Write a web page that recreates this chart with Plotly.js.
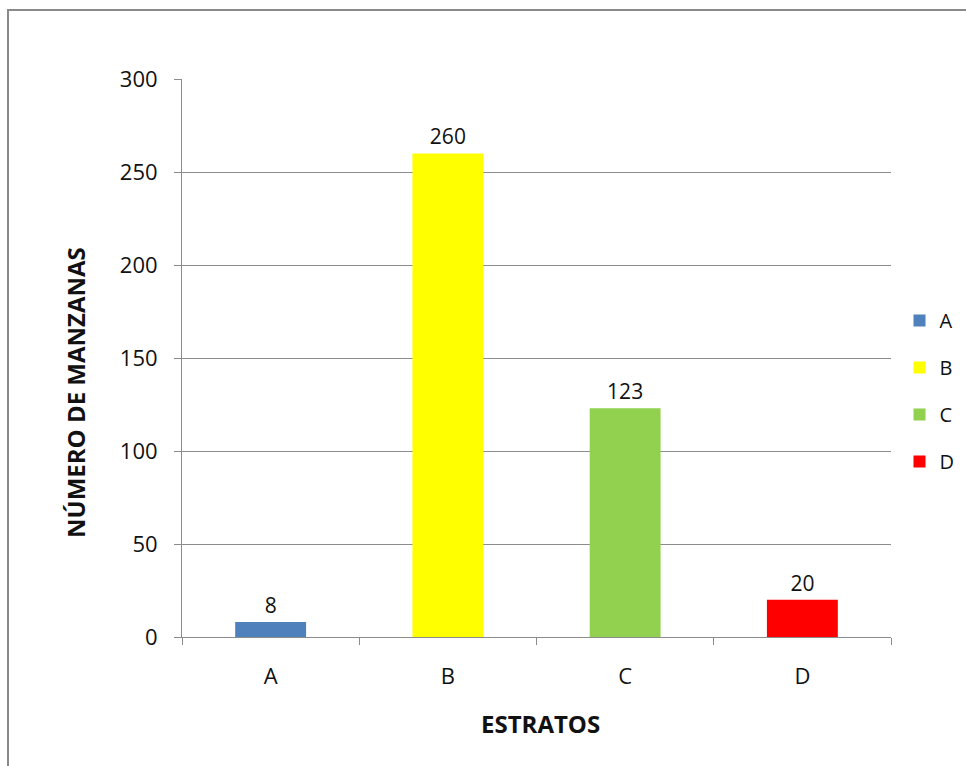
<!DOCTYPE html>
<html>
<head>
<meta charset="utf-8">
<script src="https://cdn.plot.ly/plotly-3.0.1.min.js"></script>
<style>
  html, body { margin: 0; padding: 0; background: #ffffff; }
  #chart { width: 966px; height: 766px; }
</style>
</head>
<body>
<div id="chart"></div>
<script>
// Number of blocks (manzanas) per stratum
const categories = ['A', 'B', 'C', 'D'];
const counts = [8, 260, 123, 20];
const barColors = ['#4F81BD', '#FFFF00', '#92D050', '#FF0000'];
const yTicks = [0, 50, 100, 150, 200, 250, 300];
const xTitle = 'ESTRATOS';
const yTitle = 'NÚMERO DE MANZANAS';

const FONT = 'Open Sans, Noto Sans, sans-serif';
const TEXT = '#111111';
const GRID = '#8c8c8c';

// One trace per stratum so each gets its own legend entry
const traces = categories.map((c, i) => ({
  type: 'bar',
  name: c,
  legendgroup: c,
  x: [c],
  y: [counts[i]],
  text: [String(counts[i])],
  textposition: 'outside',
  cliponaxis: false,
  textfont: { family: FONT, size: 21, color: TEXT },
  marker: { color: barColors[i], line: { width: 0 } },
  hoverinfo: 'x+y'
}));

const layout = {
  width: 966,
  height: 766,
  margin: { l: 182, r: 75, t: 79, b: 129, autoexpand: false },
  paper_bgcolor: '#ffffff',
  plot_bgcolor: '#ffffff',
  font: { family: FONT, size: 21, color: TEXT },
  barmode: 'overlay',
  bargap: 0.6,
  showlegend: true,
  legend: {
    x: 1.012, xanchor: 'left',
    y: 0.441, yanchor: 'middle',
    traceorder: 'grouped',
    tracegroupgap: 18,
    font: { family: FONT, size: 20, color: TEXT },
    bgcolor: 'rgba(0,0,0,0)'
  },
  xaxis: {
    type: 'category',
    categoryorder: 'array',
    categoryarray: categories,
    showline: true,
    linecolor: GRID,
    linewidth: 1,
    ticks: 'outside',
    tickson: 'boundaries',
    ticklen: 7,
    tickcolor: GRID,
    ticklabelstandoff: 20,
    showgrid: false,
    tickfont: { family: FONT, size: 22, color: TEXT }
  },
  yaxis: {
    range: [0, 300],
    tickvals: yTicks,
    ticktext: yTicks.map(String),
    showline: true,
    linecolor: GRID,
    linewidth: 1,
    ticks: 'outside',
    ticklen: 7,
    tickcolor: GRID,
    ticklabelstandoff: 12,
    showgrid: true,
    gridcolor: GRID,
    gridwidth: 1,
    zeroline: false,
    tickfont: { family: FONT, size: 22, color: TEXT }
  },
  annotations: [
    {
      text: xTitle, showarrow: false,
      xref: 'paper', yref: 'paper',
      x: 0.5056, y: -0.155, xanchor: 'center', yanchor: 'middle',
      font: { family: FONT, size: 24, color: TEXT, weight: 'bold' }
    },
    {
      text: yTitle, showarrow: false, textangle: -90,
      xref: 'paper', yref: 'paper',
      x: -0.1495, y: 0.4373, xanchor: 'center', yanchor: 'middle',
      font: { family: FONT, size: 24, color: TEXT, weight: 'bold' }
    }
  ],
  shapes: [
    // chart-area frame
    {
      type: 'rect', xref: 'paper', yref: 'paper',
      x0: -0.2454, x1: 1.6, y0: -0.5, y1: 1.1237,
      line: { color: '#8a8a8a', width: 2 },
      fillcolor: 'rgba(0,0,0,0)',
      layer: 'below'
    }
  ]
};

Plotly.newPlot('chart', traces, layout, { displayModeBar: false, staticPlot: true });
</script>
</body>
</html>
